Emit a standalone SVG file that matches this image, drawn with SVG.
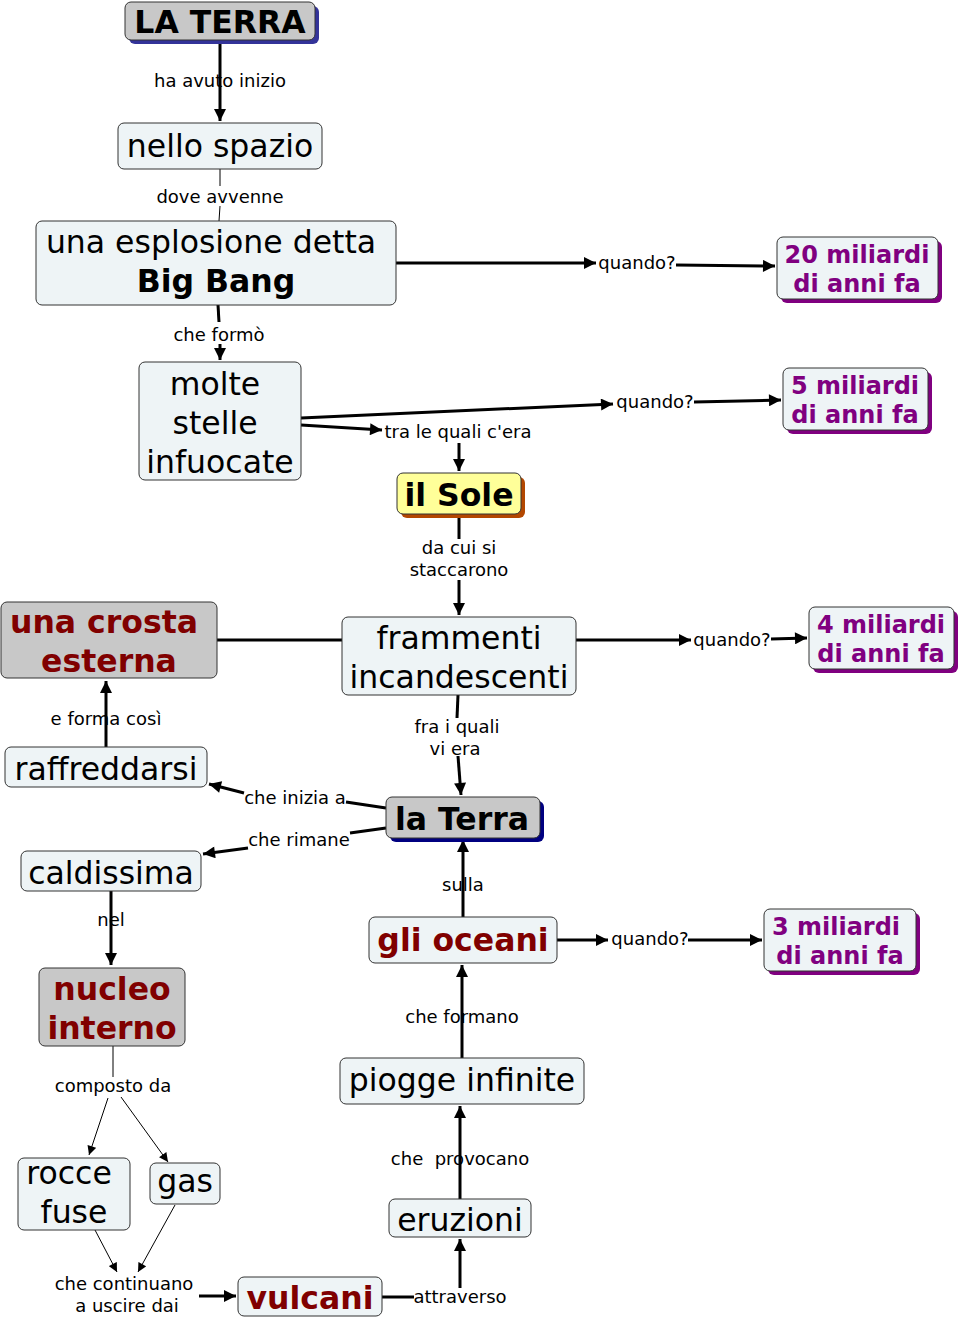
<svg xmlns="http://www.w3.org/2000/svg" width="959" height="1318" viewBox="0 0 959 1318">
<style>
text{font-family:"DejaVu Sans","Verdana",sans-serif;text-anchor:middle;}
.n{font-size:31.5px;fill:#000;}
.b{font-size:31.5px;font-weight:bold;fill:#000;}
.r{font-size:31.5px;font-weight:bold;fill:#800000;}
.p{font-size:24px;font-weight:bold;fill:#800080;}
.l{font-size:18px;fill:#000;}
.box{fill:#eef4f6;stroke:#333;stroke-width:1;}
.gray{fill:#c8c8c8;stroke:#333;stroke-width:1;}
.yel{fill:#ffff99;stroke:#333;stroke-width:1;}
.shN{fill:#333399;}
.shD{fill:#000080;}
.shP{fill:#800080;}
.shO{fill:#b34700;}
.c{stroke:#000;stroke-width:3;fill:none;}
.t{stroke:#000;stroke-width:1;fill:none;}
</style>
<defs>
<marker id="a" viewBox="0 0 10 10" refX="10" refY="5" markerWidth="13" markerHeight="12" markerUnits="userSpaceOnUse" orient="auto"><path d="M0,0 L10,5 L0,10 z" fill="#000"/></marker>
<marker id="s" viewBox="0 0 10 10" refX="10" refY="5" markerWidth="10" markerHeight="9" markerUnits="userSpaceOnUse" orient="auto"><path d="M0,0 L10,5 L0,10 z" fill="#000"/></marker>
</defs>
<rect width="959" height="1318" fill="#fff"/>
<g id="connectors">
<line class="c" x1="220" y1="40" x2="220" y2="121" marker-end="url(#a)"/>
<text class="l" x="220" y="87">ha avuto inizio</text>
<line class="t" x1="220" y1="169" x2="220" y2="186"/>
<line class="t" x1="220" y1="206" x2="219" y2="221"/>
<text class="l" x="220" y="203">dove avvenne</text>
<line class="c" x1="396" y1="263" x2="596" y2="263" marker-end="url(#a)"/>
<text class="l" x="637" y="269">quando?</text>
<line class="c" x1="676" y1="265" x2="775" y2="266" marker-end="url(#a)"/>
<line class="c" x1="218" y1="305" x2="219" y2="322"/>
<line class="c" x1="220" y1="344" x2="220" y2="360" marker-end="url(#a)"/>
<text class="l" x="219" y="341">che formò</text>
<line class="c" x1="301" y1="418" x2="613" y2="404" marker-end="url(#a)"/>
<text class="l" x="655" y="408">quando?</text>
<line class="c" x1="694" y1="402" x2="781" y2="400" marker-end="url(#a)"/>
<line class="c" x1="301" y1="425" x2="382" y2="430" marker-end="url(#a)"/>
<text class="l" x="458" y="438">tra le quali c'era</text>
<line class="c" x1="459" y1="443" x2="459" y2="471" marker-end="url(#a)"/>
<line class="c" x1="459" y1="514" x2="459" y2="539"/>
<text class="l" x="459" y="554">da cui si</text>
<text class="l" x="459" y="576">staccarono</text>
<line class="c" x1="459" y1="580" x2="459" y2="615" marker-end="url(#a)"/>
<line class="c" x1="217" y1="640" x2="342" y2="640"/>
<line class="c" x1="576" y1="640" x2="691" y2="640" marker-end="url(#a)"/>
<text class="l" x="732" y="646">quando?</text>
<line class="c" x1="771" y1="639" x2="807" y2="638" marker-end="url(#a)"/>
<line class="c" x1="458" y1="695" x2="457" y2="718"/>
<text class="l" x="457" y="733">fra i quali</text>
<text class="l" x="455" y="755">vi era</text>
<line class="c" x1="458" y1="756" x2="461" y2="795" marker-end="url(#a)"/>
<line class="c" x1="386" y1="808" x2="346" y2="802"/>
<text class="l" x="295" y="804">che inizia a</text>
<line class="c" x1="244" y1="793" x2="209" y2="784" marker-end="url(#a)"/>
<line class="c" x1="386" y1="828" x2="350" y2="833"/>
<text class="l" x="299" y="846">che rimane</text>
<line class="c" x1="248" y1="848" x2="203" y2="854" marker-end="url(#a)"/>
<line class="c" x1="106" y1="747" x2="106" y2="681" marker-end="url(#a)"/>
<text class="l" x="106" y="725">e forma così</text>
<line class="c" x1="111" y1="891" x2="111" y2="965" marker-end="url(#a)"/>
<text class="l" x="111" y="926">nel</text>
<line class="c" x1="463" y1="917" x2="463" y2="840" marker-end="url(#a)"/>
<text class="l" x="463" y="891">sulla</text>
<line class="c" x1="557" y1="940" x2="608" y2="940" marker-end="url(#a)"/>
<text class="l" x="650" y="945">quando?</text>
<line class="c" x1="688" y1="940" x2="762" y2="940" marker-end="url(#a)"/>
<line class="c" x1="462" y1="1058" x2="462" y2="965" marker-end="url(#a)"/>
<text class="l" x="462" y="1023">che formano</text>
<line class="c" x1="460" y1="1199" x2="460" y2="1106" marker-end="url(#a)"/>
<text class="l" x="460" y="1165">che&#160; provocano</text>
<line class="c" x1="382" y1="1297" x2="414" y2="1297"/>
<text class="l" x="460" y="1303">attraverso</text>
<line class="c" x1="460" y1="1288" x2="460" y2="1239" marker-end="url(#a)"/>
<line class="t" x1="113" y1="1046" x2="113" y2="1077"/>
<text class="l" x="113" y="1092">composto da</text>
<line class="t" x1="108" y1="1098" x2="89" y2="1155" marker-end="url(#s)"/>
<line class="t" x1="121" y1="1097" x2="168" y2="1162" marker-end="url(#s)"/>
<line class="t" x1="95" y1="1230" x2="117" y2="1272" marker-end="url(#s)"/>
<line class="t" x1="175" y1="1205" x2="138" y2="1272" marker-end="url(#s)"/>
<text class="l" x="124" y="1290">che continuano</text>
<text class="l" x="127" y="1312">a uscire dai</text>
<line class="c" x1="199" y1="1296" x2="236" y2="1296" marker-end="url(#a)"/>
</g>
<g id="n-laterra-top">
<rect class="shN" x="129" y="6" width="190" height="38" rx="6"/>
<rect class="gray" x="125" y="2" width="190" height="38" rx="6"/>
<text class="b" x="220" y="33">LA TERRA</text>
</g>
<g id="n-spazio">
<rect class="box" x="118" y="123" width="204" height="46" rx="6"/>
<text class="n" x="220" y="157">nello spazio</text>
</g>
<g id="n-bigbang">
<rect class="box" x="36" y="221" width="360" height="84" rx="6"/>
<text class="n" x="211" y="253">una esplosione detta</text>
<text class="b" x="216" y="292">Big Bang</text>
</g>
<g id="n-20mld">
<rect class="shP" x="781" y="241" width="161" height="62" rx="6"/>
<rect class="box" x="777" y="237" width="161" height="62" rx="6"/>
<text class="p" x="857" y="263">20 miliardi</text>
<text class="p" x="857" y="292">di anni fa</text>
</g>
<g id="n-stelle">
<rect class="box" x="139" y="362" width="162" height="118" rx="6"/>
<text class="n" x="215" y="395">molte</text>
<text class="n" x="215" y="434">stelle</text>
<text class="n" x="220" y="473">infuocate</text>
</g>
<g id="n-5mld">
<rect class="shP" x="787" y="372" width="145" height="62" rx="6"/>
<rect class="box" x="783" y="368" width="145" height="62" rx="6"/>
<text class="p" x="855" y="394">5 miliardi</text>
<text class="p" x="855" y="423">di anni fa</text>
</g>
<g id="n-sole">
<rect class="shO" x="401" y="477" width="124" height="41" rx="6"/>
<rect class="yel" x="397" y="473" width="124" height="41" rx="6"/>
<text class="b" x="459" y="506">il Sole</text>
</g>
<g id="n-crosta">
<rect class="gray" x="1" y="602" width="216" height="76" rx="6"/>
<text class="r" x="104" y="633">una crosta</text>
<text class="r" x="109" y="672">esterna</text>
</g>
<g id="n-frammenti">
<rect class="box" x="342" y="617" width="234" height="78" rx="6"/>
<text class="n" x="459" y="649">frammenti</text>
<text class="n" x="459" y="688">incandescenti</text>
</g>
<g id="n-4mld">
<rect class="shP" x="813" y="611" width="145" height="62" rx="6"/>
<rect class="box" x="809" y="607" width="145" height="62" rx="6"/>
<text class="p" x="881" y="633">4 miliardi</text>
<text class="p" x="881" y="662">di anni fa</text>
</g>
<g id="n-raffreddarsi">
<rect class="box" x="5" y="747" width="202" height="40" rx="6"/>
<text class="n" x="106" y="780">raffreddarsi</text>
</g>
<g id="n-laterra">
<rect class="shD" x="390" y="801" width="154" height="41" rx="6"/>
<rect class="gray" x="386" y="797" width="154" height="41" rx="6"/>
<text class="b" x="462" y="830">la Terra</text>
</g>
<g id="n-caldissima">
<rect class="box" x="21" y="851" width="180" height="40" rx="6"/>
<text class="n" x="111" y="884">caldissima</text>
</g>
<g id="n-oceani">
<rect class="box" x="369" y="917" width="188" height="46" rx="6"/>
<text class="r" x="463" y="951">gli oceani</text>
</g>
<g id="n-3mld">
<rect class="shP" x="768" y="913" width="152" height="62" rx="6"/>
<rect class="box" x="764" y="909" width="152" height="62" rx="6"/>
<text class="p" x="836" y="935">3 miliardi</text>
<text class="p" x="840" y="964">di anni fa</text>
</g>
<g id="n-nucleo">
<rect class="gray" x="39" y="968" width="146" height="78" rx="6"/>
<text class="r" x="112" y="1000">nucleo</text>
<text class="r" x="112" y="1039">interno</text>
</g>
<g id="n-piogge">
<rect class="box" x="340" y="1058" width="244" height="46" rx="6"/>
<text class="n" x="462" y="1091">piogge infinite</text>
</g>
<g id="n-rocce">
<rect class="box" x="18" y="1158" width="112" height="72" rx="6"/>
<text class="n" x="69" y="1184">rocce</text>
<text class="n" x="74" y="1223">fuse</text>
</g>
<g id="n-gas">
<rect class="box" x="150" y="1163" width="70" height="41" rx="6"/>
<text class="n" x="185" y="1192">gas</text>
</g>
<g id="n-eruzioni">
<rect class="box" x="389" y="1199" width="142" height="38" rx="6"/>
<text class="n" x="460" y="1231">eruzioni</text>
</g>
<g id="n-vulcani">
<rect class="box" x="238" y="1277" width="144" height="39" rx="6"/>
<text class="r" x="310" y="1309">vulcani</text>
</g>
</svg>
